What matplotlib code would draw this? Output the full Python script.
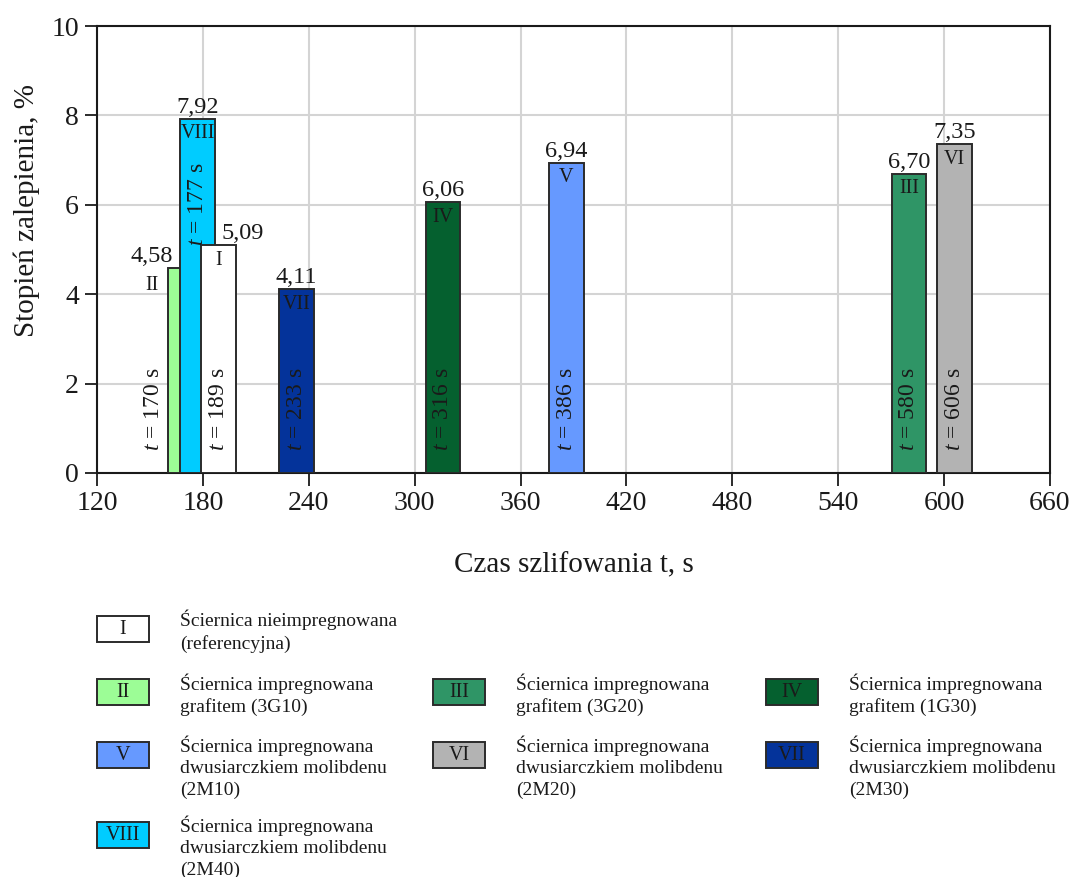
import matplotlib
matplotlib.use("Agg")
import matplotlib.pyplot as plt
from matplotlib.patches import Rectangle

plt.rcParams["font.family"] = ["Liberation Serif", "DejaVu Serif"]
plt.rcParams["mathtext.fontset"] = "custom"
plt.rcParams["mathtext.rm"] = "Liberation Serif"
plt.rcParams["mathtext.it"] = "Liberation Serif:italic"

# --- data -----------------------------------------------------------------
series = ["I", "II", "III", "IV", "V", "VI", "VII", "VIII"]
grinding_time_s = [189, 170, 580, 316, 386, 606, 233, 177]
clogging_pct = [5.09, 4.58, 6.70, 6.06, 6.94, 7.35, 4.11, 7.92]
descriptions = [
    "Ściernica nieimpregnowana\n(referencyjna)",
    "Ściernica impregnowana\ngrafitem (3G10)",
    "Ściernica impregnowana\ngrafitem (3G20)",
    "Ściernica impregnowana\ngrafitem (1G30)",
    "Ściernica impregnowana\ndwusiarczkiem molibdenu\n(2M10)",
    "Ściernica impregnowana\ndwusiarczkiem molibdenu\n(2M20)",
    "Ściernica impregnowana\ndwusiarczkiem molibdenu\n(2M30)",
    "Ściernica impregnowana\ndwusiarczkiem molibdenu\n(2M40)",
]
x_ticks = [120, 180, 240, 300, 360, 420, 480, 540, 600, 660]
y_ticks = [0, 2, 4, 6, 8, 10]

# --- styling ----------------------------------------------------------------
colors = {
    "I": "#ffffff", "II": "#9cfd96", "III": "#2f9566", "IV": "#05602f",
    "V": "#6699ff", "VI": "#b3b3b3", "VII": "#04339a", "VIII": "#00ccff",
}
draw_order = ["II", "VIII", "I", "VII", "IV", "V", "III", "VI"]
# label offsets in pixels: (value dx, numeral dx, numeral dy, t dx, t y)
offsets = {
    "II": (-34, -33, -17, -32, 0.5),
    "I": (24, 0, -15, 0, 0.5),
    "VIII": (0, 0, -15, 0, 5.08),
}
legend_rows = [["I"], ["II", "III", "IV"], ["V", "VI", "VII"], ["VIII"]]
edge = "#2b2b2b"
ink = "#1a1a1a"
W, H = 1076, 877
bar_w = 19.6


def fmt(v):
    return f"{v:.2f}".replace(".", ",")


fig = plt.figure(figsize=(W / 100, H / 100), dpi=100)
ax = fig.add_axes([97 / W, 1 - 473 / H, 953 / W, 447 / H])

lookup = {s: i for i, s in enumerate(series)}
for z, name in enumerate(draw_order):
    i = lookup[name]
    t, v = grinding_time_s[i], clogging_pct[i]
    ax.bar(t, v, width=bar_w, color=colors[name], edgecolor=edge,
           linewidth=1.4, zorder=3 + z)
    vdx, ndx, ndy, tdx, ty = offsets.get(name, (0, 0, -15, 0, 0.5))
    ax.annotate(fmt(v), (t, v), xytext=(vdx, 1), textcoords="offset pixels",
                ha="center", va="bottom", fontsize=17.5, color=ink, zorder=20)
    ax.annotate(name, (t, v), xytext=(ndx, ndy), textcoords="offset pixels",
                ha="center", va="center", fontsize=14.5, color=ink, zorder=20)
    ax.annotate(f"$t$ = {t} s", (t, ty), xytext=(tdx, 0),
                textcoords="offset pixels", rotation=90, ha="center",
                va="bottom", fontsize=17, color=ink, zorder=20)

ax.set_xlim(120, 660)
ax.set_ylim(0, 10)
ax.set_xticks(x_ticks)
ax.set_yticks(y_ticks)
ax.grid(True, color="#d4d4d4", linewidth=1.5, zorder=0)
ax.set_axisbelow(True)
for sp in ax.spines.values():
    sp.set_linewidth(1.5)
    sp.set_color(ink)
ax.tick_params(direction="out", length=9, width=1.3, labelsize=20,
               pad=4, colors=ink)

ax.set_xlabel("Czas szlifowania t, s", fontsize=21, color=ink)
ax.xaxis.set_label_coords(0.5, -0.178)
ax.set_ylabel("Stopień zalepienia, %", fontsize=21, color=ink)
ax.yaxis.set_label_coords(-0.06, 0.588)

# --- legend drawn in pixel coordinates ---------------------------------------
lax = fig.add_axes([0, 0, 1, 1])
lax.set_xlim(0, W)
lax.set_ylim(H, 0)
lax.axis("off")

col_x = [97, 433, 766]
row_top = 616
for row in legend_rows:
    n_lines = 0
    for c, name in enumerate(row):
        i = lookup[name]
        x0 = col_x[c]
        lax.add_patch(Rectangle((x0, row_top), 52, 26, facecolor=colors[name],
                                edgecolor=edge, linewidth=1.4))
        lax.text(x0 + 26, row_top + 13.5, name, ha="center", va="center",
                 fontsize=14.5, color=ink)
        lax.text(x0 + 83, row_top - 6, descriptions[i], ha="left", va="top",
                 fontsize=14, linespacing=1.3, color=ink)
        n_lines = max(n_lines, descriptions[i].count("\n") + 1)
    row_top += 29 + 17 * n_lines

fig.savefig("out.png", dpi=100)
